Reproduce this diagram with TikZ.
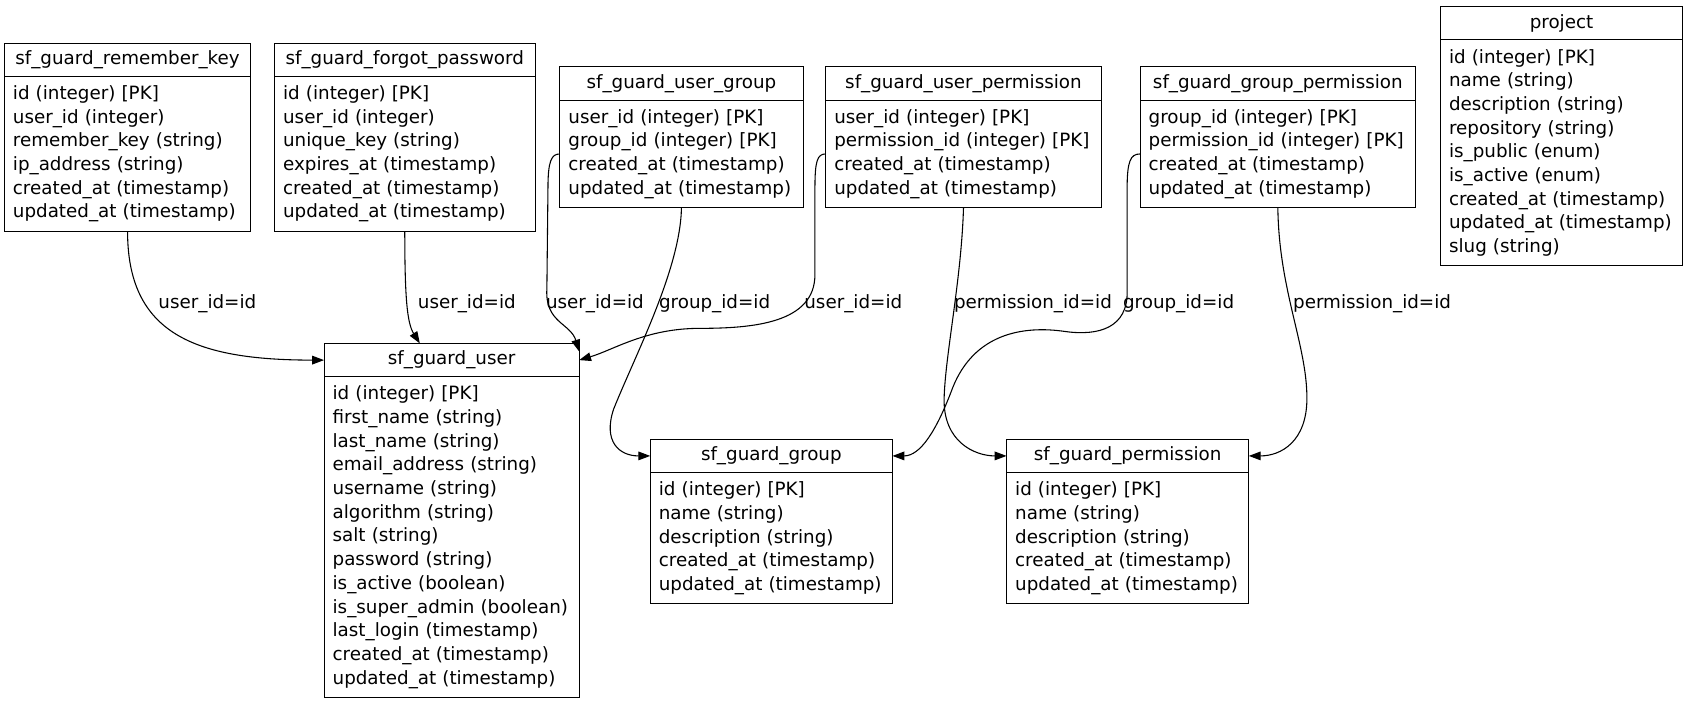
\documentclass[tikz,border=0pt]{standalone}
\usepackage{fontspec}
\setmainfont{DejaVu Sans}
\usetikzlibrary{arrows.meta}
\tikzset{
  tblhead/.style={draw, line width=1pt, anchor=north west, inner sep=0pt, outer sep=0pt, minimum height=31pt, font=\fontsize{17}{22}\selectfont},
  tblbody/.style={draw, line width=1pt, anchor=north west, inner xsep=8pt, inner ysep=0pt, outer sep=0pt, align=left, font=\fontsize{17}{22}\selectfont},
  fk/.style={line width=1pt, -{Triangle[length=11pt,width=8pt]}},
  fklabel/.style={anchor=west, inner sep=0pt, font=\fontsize{17}{22}\selectfont}
}
\begin{document}
\begin{tikzpicture}[x=1pt,y=-1pt]
	\useasboundingbox (0,0) rectangle (1568,657);
	\foreach \Name/\X/\Y/\W/\N/\Title/\Rows [evaluate=\N as \Ht using \N*22+12, evaluate=\W as \TW using \W-16] in {
		rk/4/40/229/6/{sf\_guard\_remember\_key}/{id (integer) [PK]\\user\_id (integer)\\remember\_key (string)\\ip\_address (string)\\created\_at (timestamp)\\updated\_at (timestamp)},
		fp/255/40/242/6/{sf\_guard\_forgot\_password}/{id (integer) [PK]\\user\_id (integer)\\unique\_key (string)\\expires\_at (timestamp)\\created\_at (timestamp)\\updated\_at (timestamp)},
		ug/520/62/226/4/{sf\_guard\_user\_group}/{user\_id (integer) [PK]\\group\_id (integer) [PK]\\created\_at (timestamp)\\updated\_at (timestamp)},
		up/767/62/256/4/{sf\_guard\_user\_permission}/{user\_id (integer) [PK]\\permission\_id (integer) [PK]\\created\_at (timestamp)\\updated\_at (timestamp)},
		gp/1059/62/256/4/{sf\_guard\_group\_permission}/{group\_id (integer) [PK]\\permission\_id (integer) [PK]\\created\_at (timestamp)\\updated\_at (timestamp)},
		proj/1338/6/225/9/{project}/{id (integer) [PK]\\name (string)\\description (string)\\repository (string)\\is\_public (enum)\\is\_active (enum)\\created\_at (timestamp)\\updated\_at (timestamp)\\slug (string)},
		usr/301/319/237/13/{sf\_guard\_user}/{id (integer) [PK]\\first\_name (string)\\last\_name (string)\\email\_address (string)\\username (string)\\algorithm (string)\\salt (string)\\password (string)\\is\_active (boolean)\\is\_super\_admin (boolean)\\last\_login (timestamp)\\created\_at (timestamp)\\updated\_at (timestamp)},
		grp/604/408/225/5/{sf\_guard\_group}/{id (integer) [PK]\\name (string)\\description (string)\\created\_at (timestamp)\\updated\_at (timestamp)},
		perm/935/408/225/5/{sf\_guard\_permission}/{id (integer) [PK]\\name (string)\\description (string)\\created\_at (timestamp)\\updated\_at (timestamp)}}{
		\node[tblhead, minimum width=\W pt] (\Name-h) at (\X,\Y) {\Title};
		\node[tblbody, text width=\TW pt, minimum height=\Ht pt] (\Name-b) at (\Name-h.south west) {\Rows};
	}
	% relations
	\draw[fk] (rk-b.south) .. controls (118.5,310) and (181,334.5) .. (usr-h.west);
	\draw[fk] (fp-b.south) .. controls (376,275) and (378,300) .. ([xshift=-29.5pt]usr-h.north);
	\draw[fk] (ug-b.west) .. controls (512,143) and (509,150) .. (509,175) -- (508,268) .. controls (506,300) and (530,300) .. ([yshift=8pt]usr-h.east);
	\draw[fk] (ug-b.south) .. controls (632,250) and (590,330) .. (570,380) .. controls (560,410) and (575,423.5) .. (grp-h.west);
	\draw[fk] (up-b.west) .. controls (759,143) and (757,150) .. (757,175) -- (757,255) .. controls (757,300) and (700,305) .. (650,305) .. controls (600,305) and (570,325) .. (usr-h.east);
	\draw[fk] (up-b.south) .. controls (893,260) and (878,330) .. (877,370) .. controls (876,410) and (905,423.5) .. (perm-h.west);
	\draw[fk] (gp-b.west) .. controls (1050,143) and (1047,150) .. (1047,175) -- (1047,270) .. controls (1048,305) and (1020,312) .. (990,308) .. controls (950,302) and (905,310) .. (885,360) .. controls (870,400) and (855,423.5) .. (grp-h.east);
	\draw[fk] (gp-b.south) .. controls (1188,270) and (1214,320) .. (1214,370) .. controls (1214,410) and (1190,423.5) .. (perm-h.east);
	\node[fklabel] (l-rk) at (147,282) {user\_id=id};
	\node[fklabel] (l-fp) at (388,282) {user\_id=id};
	\node[fklabel] (l-ugu) at (507,282) {user\_id=id};
	\node[fklabel] (l-ugg) at (612,282) {group\_id=id};
	\node[fklabel] (l-upu) at (747,282) {user\_id=id};
	\node[fklabel] (l-upp) at (886,282) {permission\_id=id};
	\node[fklabel] (l-gpg) at (1043,282) {group\_id=id};
	\node[fklabel] (l-gpp) at (1201,282) {permission\_id=id};
\end{tikzpicture}
\end{document}
